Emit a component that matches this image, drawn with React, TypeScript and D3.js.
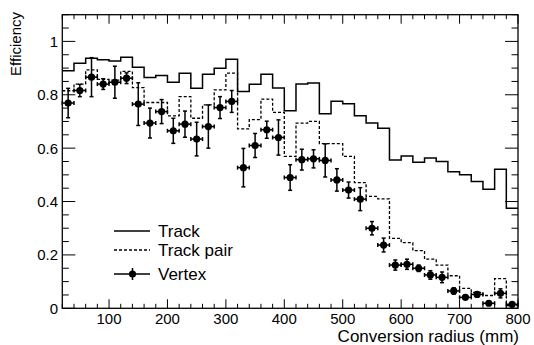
import React from "react";
import * as d3 from "d3";

// bin lower edges (20 mm wide bins from 20 to 800 mm)
const binLow: number[] = d3.range(20, 800, 20);
const xMax = 800;

const trackEff = [
  0.89, 0.918, 0.937, 0.931, 0.927, 0.941, 0.903, 0.865, 0.872, 0.847,
  0.881, 0.824, 0.877, 0.899, 0.933, 0.812, 0.839, 0.877, 0.825, 0.74,
  0.84, 0.844, 0.729, 0.776, 0.766, 0.721, 0.694, 0.675, 0.556, 0.571,
  0.547, 0.563, 0.55, 0.512, 0.5, 0.475, 0.446, 0.521, 0.375,
];

const trackPairEff = [
  0.815, 0.84, 0.893, 0.858, 0.855, 0.888, 0.827, 0.771, 0.771, 0.721,
  0.793, 0.712, 0.762, 0.818, 0.881, 0.672, 0.707, 0.784, 0.734, 0.569,
  0.694, 0.7, 0.617, 0.617, 0.569, 0.471, 0.419, 0.41, 0.262, 0.246,
  0.216, 0.184, 0.162, 0.122, 0.075, 0.06, 0.048, 0.111, 0.01,
];

const vertexEff = [
  0.769, 0.816, 0.866, 0.84, 0.847, 0.862, 0.765, 0.694, 0.737, 0.665,
  0.69, 0.634, 0.681, 0.752, 0.775, 0.527, 0.61, 0.669, 0.64, 0.49,
  0.557, 0.56, 0.554, 0.481, 0.443, 0.409, 0.3, 0.237, 0.162, 0.165,
  0.15, 0.125, 0.116, 0.065, 0.041, 0.052, 0.019, 0.056, 0.015,
];

const vertexErr = [
  0.055, 0.023, 0.073, 0.02, 0.06, 0.02, 0.08, 0.056, 0.045, 0.047,
  0.049, 0.063, 0.081, 0.041, 0.041, 0.072, 0.045, 0.032, 0.066, 0.048,
  0.039, 0.034, 0.062, 0.042, 0.03, 0.043, 0.025, 0.026, 0.019, 0.019,
  0.012, 0.016, 0.02, 0.012, 0.008, 0.01, 0.006, 0.017, 0.005,
];

const xMajorTicks = [100, 200, 300, 400, 500, 600, 700, 800];
const yMajorTicks = [0, 0.2, 0.4, 0.6, 0.8, 1];
const yTickLabels = ["0", "0.2", "0.4", "0.6", "0.8", "1"];
const legendLabels = ["Track", "Track pair", "Vertex"];

const W = 534;
const H = 345;
const L = 62.3, R = 518, T = 14.7, B = 308.3;
const FONT = "'Liberation Sans', Arial, Helvetica, sans-serif";

export default function App() {
  const x = d3.scaleLinear().domain([20, xMax]).range([L, R]);
  const y = d3.scaleLinear().domain([0, 1.1]).range([B, T]);

  const stepLine = (vals: number[]) => {
    const pts: [number, number][] = binLow.map((b, i) => [b, vals[i]]);
    pts.push([xMax, vals[vals.length - 1]]);
    return d3
      .line<[number, number]>()
      .x((d) => x(d[0]))
      .y((d) => y(d[1]))
      .curve(d3.curveStepAfter)(pts) as string;
  };

  const xMinor = d3.range(20, 801, 20);
  const yMinor = d3.range(0, 1.1001, 0.05);

  const cap = 2;
  const mr = 3.6;

  return (
    <svg
      width={W}
      height={H}
      style={{ position: "absolute", left: 0, top: 0, background: "#fff" }}
      fontFamily={FONT}
    >
      <rect x={0} y={0} width={W} height={H} fill="#fff" />
      {/* histograms */}
      <path d={stepLine(trackEff)} fill="none" stroke="#000" strokeWidth={1.5} />
      <path
        d={stepLine(trackPairEff)}
        fill="none"
        stroke="#000"
        strokeWidth={1.3}
        strokeDasharray="3,2"
      />
      {/* vertex points */}
      {binLow.map((b, i) => {
        const cx = x(b + 10);
        const cy = y(vertexEff[i]);
        const x0 = x(b);
        const x1 = x(b + 20);
        const y0 = y(vertexEff[i] - vertexErr[i]);
        const y1 = y(vertexEff[i] + vertexErr[i]);
        return (
          <g key={i} stroke="#000" strokeWidth={1.5}>
            <line x1={x0} x2={x1} y1={cy} y2={cy} />
            <line x1={x0} x2={x0} y1={cy - cap} y2={cy + cap} />
            <line x1={x1} x2={x1} y1={cy - cap} y2={cy + cap} />
            <line x1={cx} x2={cx} y1={y0} y2={y1} />
            <line x1={cx - cap} x2={cx + cap} y1={y0} y2={y0} />
            <line x1={cx - cap} x2={cx + cap} y1={y1} y2={y1} />
            <circle cx={cx} cy={cy} r={mr} fill="#000" stroke="none" />
          </g>
        );
      })}
      {/* frame */}
      <rect x={L} y={T} width={R - L} height={B - T} fill="none" stroke="#000" strokeWidth={1.3} />
      {/* x ticks */}
      {xMinor.map((v) => {
        const major = v % 100 === 0;
        const len = major ? 9 : 4.5;
        const px = x(v);
        return (
          <g key={"xt" + v} stroke="#000" strokeWidth={1}>
            <line x1={px} x2={px} y1={B} y2={B - len} />
            <line x1={px} x2={px} y1={T} y2={T + len} />
          </g>
        );
      })}
      {/* y ticks */}
      {yMinor.map((v, i) => {
        const major = i % 4 === 0;
        const len = major ? 13 : 6.5;
        const py = y(v);
        return (
          <g key={"yt" + i} stroke="#000" strokeWidth={1}>
            <line x1={L} x2={L + len} y1={py} y2={py} />
            <line x1={R} x2={R - len} y1={py} y2={py} />
          </g>
        );
      })}
      {/* x tick labels */}
      {xMajorTicks.map((v) => (
        <text key={"xl" + v} x={x(v)} y={324} fontSize={15} textAnchor="middle" fill="#000">
          {v}
        </text>
      ))}
      {/* y tick labels */}
      {yMajorTicks.map((v, i) => (
        <text
          key={"yl" + v}
          x={58}
          y={y(v)}
          dy="0.36em"
          fontSize={15}
          textAnchor="end"
          fill="#000"
        >
          {yTickLabels[i]}
        </text>
      ))}
      {/* axis titles */}
      <text x={R + 1} y={342} fontSize={17} textAnchor="end" fill="#000">
        Conversion radius (mm)
      </text>
      <text
        transform={`translate(21,12) rotate(-90)`}
        fontSize={15}
        textAnchor="end"
        fill="#000"
      >
        Efficiency
      </text>
      {/* legend */}
      <g>
        <line x1={114} x2={150} y1={231} y2={231} stroke="#000" strokeWidth={1.5} />
        <text x={158} y={237} fontSize={17} fill="#000">{legendLabels[0]}</text>
        <line x1={114} x2={150} y1={250} y2={250} stroke="#000" strokeWidth={1.3} strokeDasharray="3,2" />
        <text x={158} y={256} fontSize={17} fill="#000">{legendLabels[1]}</text>
        <line x1={114} x2={150} y1={274} y2={274} stroke="#000" strokeWidth={1.5} />
        <line x1={132.5} x2={132.5} y1={268} y2={280} stroke="#000" strokeWidth={1.5} />
        <circle cx={132.5} cy={274} r={mr} fill="#000" />
        <text x={158} y={280} fontSize={17} fill="#000">{legendLabels[2]}</text>
      </g>
    </svg>
  );
}
